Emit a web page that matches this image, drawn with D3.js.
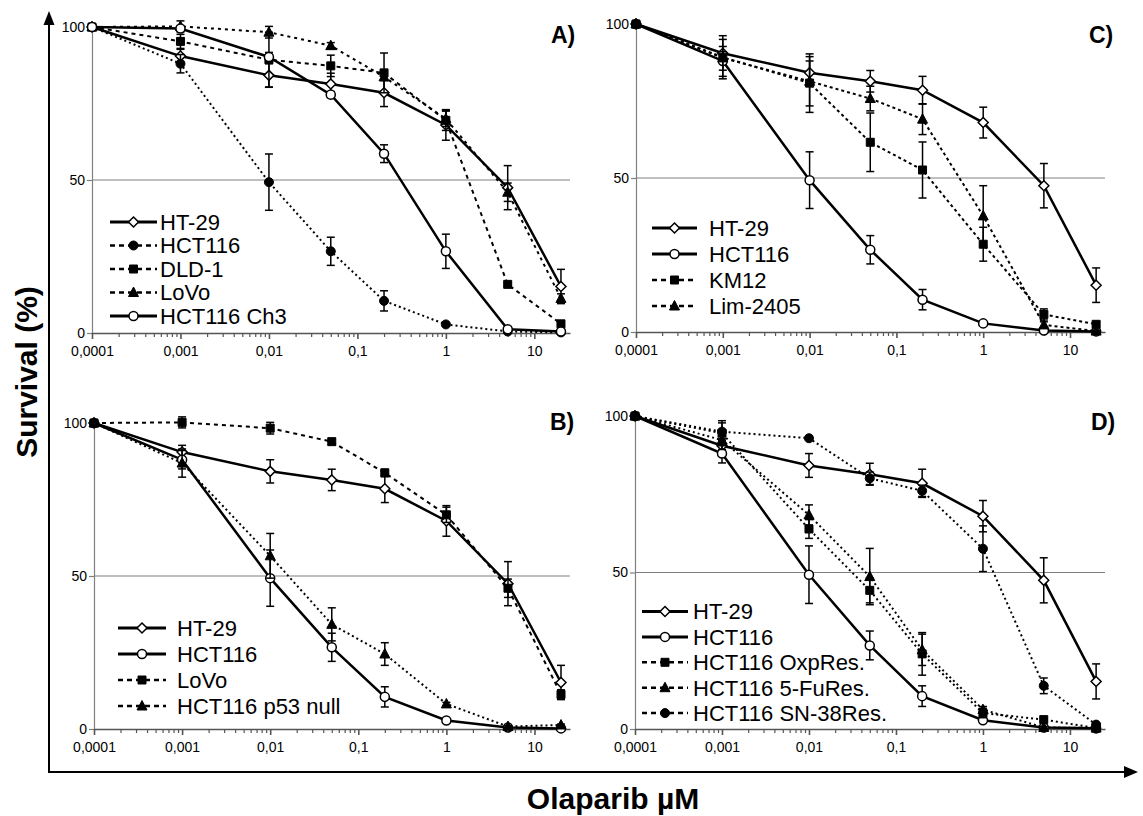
<!DOCTYPE html>
<html>
<head>
<meta charset="utf-8">
<script src="https://cdn.jsdelivr.net/npm/d3@7"></script>
<style>
body { margin: 0; background: #fff; }
text { font-family: "Liberation Sans", Arial, sans-serif; }
</style>
</head>
<body>
<div id="chart"></div>
<script>
// olaparib doses (uM) and axis ticks
var doses = [0.0001, 0.001, 0.01, 0.05, 0.2, 1, 5, 20];
var xTicks = [0.0001, 0.001, 0.01, 0.1, 1, 10];
var xTickLabels = ["0,0001", "0,001", "0,01", "0,1", "1", "10"];
var yTicks = [0, 50, 100];

// survival (%) and error per cell line
var ht29 = [100, 90.5, 84.2, 81.4, 78.5, 68, 47.5, 15.2];
var ht29Err = [0, 2.2, 3.8, 3.5, 4.5, 5, 7.2, 5.6];
var hct116 = [100, 88, 49.3, 26.7, 10.5, 2.8, 0.5, 0.2];
var hct116Err = [0, 3, 9.2, 4.6, 3.3, 0.6, 0.3, 0];
var dld1 = [100, 95.3, 89.3, 87.3, 85, 69.5, 15.9, 3];
var dld1Err = [0, 2.3, 9, 3.5, 6.5, 3.3, 0.5, 0.5];
var lovo = [100, 100.2, 98.3, 93.9, 83.7, 70, 46, 11.3];
var lovoErr = [0, 1.8, 1.9, 1, 1.2, 2.5, 3, 1.5];
var hct116Ch3 = [100, 99.5, 90.2, 77.9, 58.6, 26.7, 1.2, 0.5];
var hct116Ch3Err = [0, 0.5, 1.5, 1, 2.9, 5.6, 0.3, 0.3];
var p53null = [100, 86.9, 56.6, 34.2, 24.5, 8.2, 0.8, 1.3];
var p53nullErr = [0, 4.6, 7.3, 5.4, 3.7, 0.5, 0.3, 0.3];
var km12 = [100, 89.2, 80.8, 61.6, 52.6, 28.5, 5.7, 2.5];
var km12Err = [0, 7, 9.5, 9.5, 9.1, 5.5, 1.8, 0.5];
var lim2405 = [100, 89, 81.4, 75.8, 69.1, 37.7, 2.3, 0.3];
var lim2405Err = [0, 6, 8, 4, 5, 9.8, 1, 0.3];
var oxpRes = [100, 94.5, 63.9, 44.3, 24, 5.1, 3, 0.3];
var oxpResErr = [0, 4, 3, 4, 6.8, 1.5, 0.5, 0.3];
var fuRes = [100, 92.3, 68.4, 48.7, 25.3, 6.2, 0.5, 0.3];
var fuResErr = [0, 3, 3.2, 9, 5, 1, 0.3, 0.3];
var sn38Res = [100, 95, 92.9, 80.1, 76.1, 57.6, 13.8, 1.4];
var sn38ResErr = [0, 2.8, 0.5, 2, 1.8, 7.3, 2.5, 0.5];

function base(){
    var w = 1143;
    var h = 816;

    var panels = [
        {label: "A)", left: 92, right: 570, top: 27, bottom: 333, labelX: 551, labelY: 43,
         legX: [110, 157, 160], legY: 222, legStep: 23.5,
         series: [
            {name: "HT-29", v: ht29, e: ht29Err, mark: "diamond", dash: null},
            {name: "HCT116", v: hct116, e: hct116Err, mark: "dot", dash: "2,3"},
            {name: "DLD-1", v: dld1, e: dld1Err, mark: "square", dash: "4,4"},
            {name: "LoVo", v: lovo, e: lovoErr, mark: "triangle", dash: "3,4"},
            {name: "HCT116 Ch3", v: hct116Ch3, e: hct116Ch3Err, mark: "circle", dash: null}
         ]},
        {label: "B)", left: 94, right: 570, top: 423, bottom: 729, labelX: 550, labelY: 430,
         legX: [118, 166, 177], legY: 628, legStep: 26,
         series: [
            {name: "HT-29", v: ht29, e: ht29Err, mark: "diamond", dash: null},
            {name: "HCT116", v: hct116, e: hct116Err, mark: "circle", dash: null},
            {name: "LoVo", v: lovo, e: lovoErr, mark: "square", dash: "4,4"},
            {name: "HCT116 p53 null", v: p53null, e: p53nullErr, mark: "triangle", dash: "2,3"}
         ]},
        {label: "C)", left: 636, right: 1105, top: 24, bottom: 332, labelX: 1089, labelY: 43,
         legX: [652, 697, 709], legY: 228, legStep: 26,
         series: [
            {name: "HT-29", v: ht29, e: ht29Err, mark: "diamond", dash: null},
            {name: "HCT116", v: hct116, e: hct116Err, mark: "circle", dash: null},
            {name: "KM12", v: km12, e: km12Err, mark: "square", dash: "3,3"},
            {name: "Lim-2405", v: lim2405, e: lim2405Err, mark: "triangle", dash: "3,3"}
         ]},
        {label: "D)", left: 635, right: 1105, top: 416, bottom: 729, labelX: 1091, labelY: 430,
         legX: [642, 688, 693], legY: 611.5, legStep: 25.4,
         series: [
            {name: "HT-29", v: ht29, e: ht29Err, mark: "diamond", dash: null},
            {name: "HCT116", v: hct116, e: hct116Err, mark: "circle", dash: null},
            {name: "HCT116 OxpRes.", v: oxpRes, e: oxpResErr, mark: "square", dash: "2,3"},
            {name: "HCT116 5-FuRes.", v: fuRes, e: fuResErr, mark: "triangle", dash: "2,3"},
            {name: "HCT116 SN-38Res.", v: sn38Res, e: sn38ResErr, mark: "dot", dash: "2,3"}
         ]}
    ];

    var svg = d3.select("#chart")
    .append("svg")
    .attr("width", w)
    .attr("height", h);

    // big arrows
    svg.append("line").attr("x1", 49).attr("y1", 772).attr("x2", 49).attr("y2", 22)
    .attr("stroke", "#000").attr("stroke-width", 2);
    svg.append("path").attr("d", "M49,11 L54.5,25 L43.5,25 Z").attr("fill", "#000");
    svg.append("line").attr("x1", 48).attr("y1", 772).attr("x2", 1126).attr("y2", 772)
    .attr("stroke", "#000").attr("stroke-width", 2);
    svg.append("path").attr("d", "M1138,772 L1124,766 L1124,778 Z").attr("fill", "#000");

    svg.append("text")
    .attr("transform", "translate(37,372) rotate(-90)")
    .attr("text-anchor", "middle")
    .style("font-size", "30px").style("font-weight", "bold")
    .text("Survival (%)");

    svg.append("text")
    .attr("x", 613).attr("y", 809)
    .attr("text-anchor", "middle")
    .style("font-size", "30px").style("font-weight", "bold")
    .text("Olaparib µM");

    panels.forEach(function(p) {
        drawPanel(svg, p);
    });
}

function markerPath(type) {
    if (type == "diamond") return "M0,-5L5,0L0,5L-5,0Z";
    if (type == "square") return "M-4,-4L4,-4L4,4L-4,4Z";
    if (type == "triangle") return "M0,-5.5L5,4L-5,4Z";
    return d3.symbol().type(d3.symbolCircle).size(64)();
}

function drawMarker(g, type, cx, cy) {
    var open = (type == "diamond" || type == "circle");
    g.append("path")
    .attr("transform", "translate(" + cx + "," + cy + ")")
    .attr("d", markerPath(type))
    .attr("fill", open ? "#fff" : "#000")
    .attr("stroke", "#000")
    .attr("stroke-width", open ? 1.5 : 1);
}

function drawPanel(svg, p) {
    var x = d3.scaleLog().domain([0.0001, 25.3]).range([p.left, p.right]);
    var y = d3.scaleLinear().domain([0, 100]).range([p.bottom, p.top]);
    var g = svg.append("g");

    // 50% line
    g.append("line")
    .attr("x1", p.left).attr("x2", p.right)
    .attr("y1", y(50)).attr("y2", y(50))
    .attr("stroke", "#808080").attr("stroke-width", 1.2);

    var yAxis = d3.axisLeft(y).tickValues(yTicks).tickSize(5).tickSizeOuter(0).tickPadding(2);
    var ya = g.append("g").attr("transform", "translate(" + p.left + ",0)").call(yAxis);
    ya.selectAll("path, line").attr("stroke", "#808080").attr("stroke-width", 1.2);
    ya.selectAll("text").attr("fill", "#000").style("font-size", "14px");

    // minor log ticks
    var minor = x.ticks().filter(function(d) { return xTicks.indexOf(d) < 0; });
    var xMinor = d3.axisBottom(x).tickValues(minor).tickSize(4).tickSizeOuter(0).tickFormat("");
    var xm = g.append("g").attr("transform", "translate(0," + p.bottom + ")").call(xMinor);
    xm.select(".domain").remove();
    xm.selectAll("line").attr("stroke", "#555").attr("stroke-width", 1.2);

    var xAxis = d3.axisBottom(x).tickValues(xTicks).tickSize(6).tickSizeOuter(0).tickPadding(7)
    .tickFormat(function(d, i) { return xTickLabels[i]; });
    var xa = g.append("g").attr("transform", "translate(0," + p.bottom + ")").call(xAxis);
    xa.selectAll("path, line").attr("stroke", "#555").attr("stroke-width", 1.6);
    xa.selectAll("text").attr("fill", "#000").style("font-size", "14px");

    var line = d3.line()
    .x(function(d, i) { return x(doses[i]); })
    .y(function(d) { return y(d); });

    p.series.forEach(function(s) {
        var sg = g.append("g");
        sg.append("path")
        .attr("d", line(s.v))
        .attr("fill", "none")
        .attr("stroke", "#000")
        .attr("stroke-width", s.dash ? 2 : 2.5)
        .attr("stroke-dasharray", s.dash);

        // error bars
        s.v.forEach(function(v, i) {
            if (!s.e[i]) return;
            var cx = x(doses[i]);
            var y1 = y(v - s.e[i]), y2 = y(v + s.e[i]);
            sg.append("line").attr("x1", cx).attr("x2", cx).attr("y1", y1).attr("y2", y2)
            .attr("stroke", "#000").attr("stroke-width", 1.5);
            sg.append("line").attr("x1", cx - 4).attr("x2", cx + 4).attr("y1", y1).attr("y2", y1)
            .attr("stroke", "#000").attr("stroke-width", 1.5);
            sg.append("line").attr("x1", cx - 4).attr("x2", cx + 4).attr("y1", y2).attr("y2", y2)
            .attr("stroke", "#000").attr("stroke-width", 1.5);
        });

        s.v.forEach(function(v, i) {
            drawMarker(sg, s.mark, x(doses[i]), y(v));
        });
    });

    // legend
    p.series.forEach(function(s, i) {
        var ly = p.legY + i * p.legStep;
        g.append("line")
        .attr("x1", p.legX[0]).attr("x2", p.legX[1])
        .attr("y1", ly).attr("y2", ly)
        .attr("stroke", "#000")
        .attr("stroke-width", s.dash ? 2.5 : 3)
        .attr("stroke-dasharray", s.dash ? "5,4" : null);
        drawMarker(g, s.mark, (p.legX[0] + p.legX[1]) / 2, ly);
        g.append("text")
        .attr("x", p.legX[2]).attr("y", ly)
        .attr("dy", "0.36em")
        .style("font-size", "22px")
        .text(s.name);
    });

    g.append("text")
    .attr("x", p.labelX).attr("y", p.labelY)
    .style("font-size", "23px").style("font-weight", "bold")
    .text(p.label);
}

window.onload = base;
</script>
</body>
</html>
